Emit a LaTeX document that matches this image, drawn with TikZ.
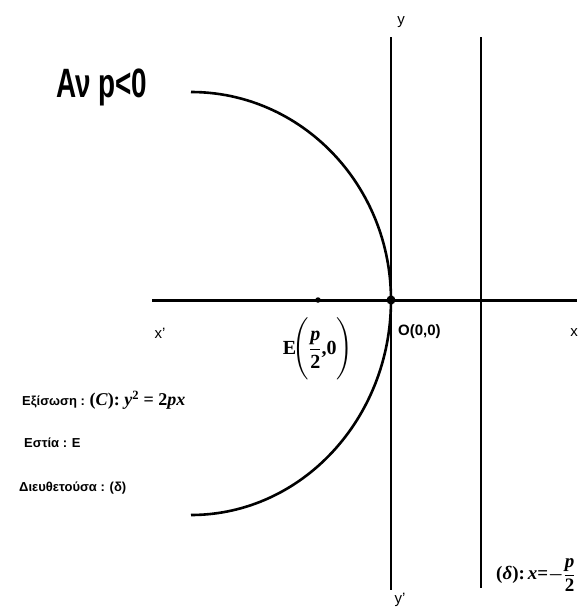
\documentclass[tikz,border=0pt]{standalone}
\usepackage{amsmath}
\usepackage{fontspec}
\setmainfont{Liberation Serif}
\newfontfamily\sansf{Liberation Sans}
\newcommand{\bi}[1]{\text{\bfseries\itshape #1}}
\newcommand{\bu}[1]{\text{\bfseries #1}}
\tikzset{
  axis/.style={line width=3pt},
  vline/.style={line width=2.3pt},
  curve/.style={line width=2.6pt},
  lbl/.style={inner sep=0pt, font=\sansf\fontsize{15}{18}\selectfont},
  gr/.style={inner sep=0pt, anchor=west, font=\sansf\bfseries\fontsize{13}{16}\selectfont},
  mth/.style={inner sep=0pt, font=\bfseries\fontsize{19}{23}\selectfont}
}
\begin{document}
\begin{tikzpicture}[x=1pt,y=-1pt]
\useasboundingbox (0,0) rectangle (585,613);
% axes and directrix
\coordinate (xl) at (152,300);
\coordinate (xr) at (577,300);
\coordinate (yt) at (391,37);
\coordinate (yb) at (391,590);
\coordinate (dt) at (481,37);
\coordinate (db) at (481,588);
\draw[axis] (xl) -- (xr);
\draw[vline] (yt) -- (yb);
\draw[vline] (dt) -- (db);
% parabola
\coordinate (ctop) at (191,92);
\draw[curve] (ctop) arc[start angle=90, end angle=0, x radius=200pt, y radius=208pt]
  arc[start angle=0, end angle=-90, x radius=200pt, y radius=215pt] coordinate (cbot);
% points
\node[circle, fill=black, inner sep=0pt, minimum size=9pt] (O) at (391,300) {};
\node[circle, fill=black, inner sep=0pt, minimum size=5.5pt] (E) at (318,300) {};
% labels
\node[inner sep=0pt, anchor=base west] (title) at (56,97)
  {\scalebox{0.68}[1]{\sansf\bfseries\fontsize{41}{41}\selectfont Αν p<0}};
\node[lbl] (ylab) at (401,22) {y};
\node[lbl] (yplab) at (400,600) {y’};
\node[lbl] (xplab) at (160,333) {x’};
\node[lbl] (xlab) at (574,333) {x};
\node[lbl, anchor=west, font=\sansf\bfseries\fontsize{15}{18}\selectfont] (Olab) at (398,332) {O(0,0)};
\node[inner sep=0pt, font=\bfseries\fontsize{20}{24}\selectfont] (Elab) at (318,349)
  {$\bu{E}\!\Biggl(\dfrac{\bi{p}}{\bu{2}}\bu{,0}\Biggr)$};
\node[mth, anchor=west] (dlab) at (496,575)
  {$\bu{(}\bi{δ}\bu{):}\,\bi{x}\bu{=}{\boldsymbol{-}}\dfrac{\bi{p}}{\bu{2}}$};
\node[gr] (eq) at (22,400) {Εξίσωση : \fontsize{18}{22}\selectfont\rmfamily\bfseries (\textit{C}): \textit{y}\textsuperscript{2} = 2\textit{px}};
\node[gr] (foc) at (24,443) {Εστία : Ε};
\node[gr] (dir) at (19,488) {Διευθετούσα : (δ)};
\end{tikzpicture}
\end{document}
